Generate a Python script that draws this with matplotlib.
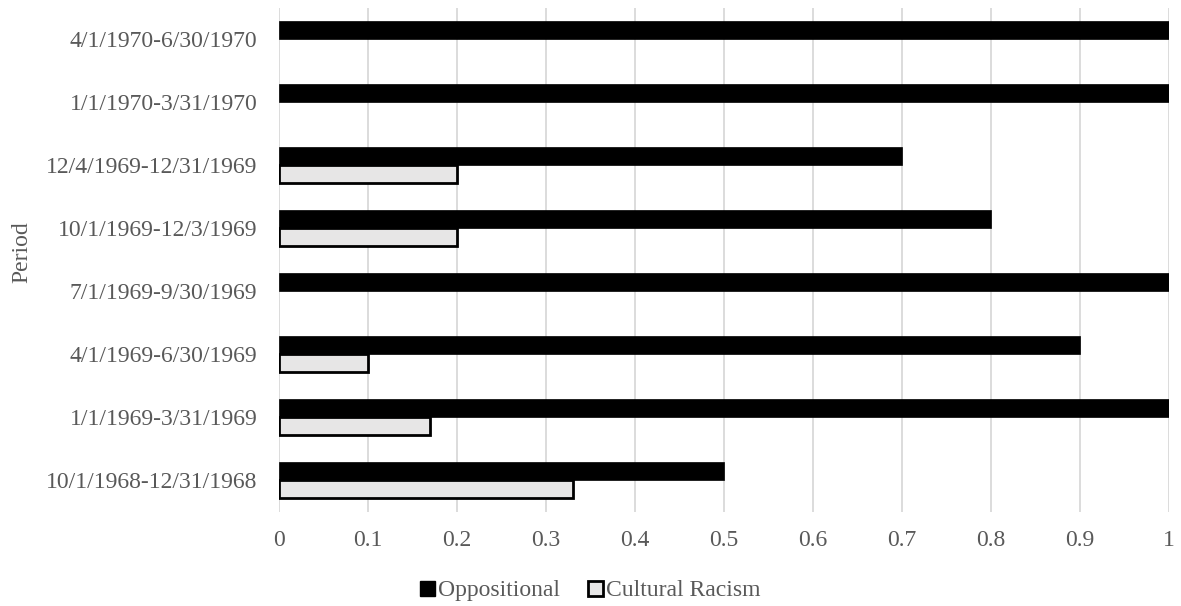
import matplotlib.pyplot as plt
from matplotlib.patches import Patch
import numpy as np

plt.rcParams['font.family'] = ['Liberation Serif', 'DejaVu Serif']

periods = ['10/1/1968-12/31/1968', '1/1/1969-3/31/1969', '4/1/1969-6/30/1969',
           '7/1/1969-9/30/1969', '10/1/1969-12/3/1969', '12/4/1969-12/31/1969',
           '1/1/1970-3/31/1970', '4/1/1970-6/30/1970']
oppositional = [0.5, 1.0, 0.9, 1.0, 0.8, 0.7, 1.0, 1.0]
cultural_racism = [0.33, 0.17, 0.1, 0.0, 0.2, 0.2, 0.0, 0.0]
x_ticks = [0, 0.1, 0.2, 0.3, 0.4, 0.5, 0.6, 0.7, 0.8, 0.9, 1]
x_labels = ['0', '0.1', '0.2', '0.3', '0.4', '0.5', '0.6', '0.7', '0.8', '0.9', '1']

txt = '#595959'
grey = '#E7E6E6'

fig = plt.figure(figsize=(11.81, 6.06), dpi=100)
ax = fig.add_axes([0.2362, 0.1559, 0.7536, 0.8317])

y = np.arange(len(periods))
h = 0.286
ax.barh(y + h / 2, oppositional, height=h, color='black', edgecolor='black', linewidth=0.5, zorder=3)
# zero values get no outline, else a stray line shows at x=0
lws = [0 if v == 0 else 2.0 for v in cultural_racism]
ax.barh(y - h / 2, cultural_racism, height=h, color=grey, edgecolor='black', linewidth=lws, zorder=3)

ax.set_xlim(0, 1)
ax.set_ylim(-0.5, len(periods) - 0.5)
ax.set_xticks(x_ticks)
ax.set_xticklabels(x_labels)
ax.set_yticks(y)
ax.set_yticklabels(periods)
ax.tick_params(axis='both', length=0, labelsize=17, colors=txt)
ax.tick_params(axis='y', pad=15.5)
ax.tick_params(axis='x', pad=13)
ax.grid(axis='x', color='#D9D9D9', linewidth=1.3, zorder=0)
ax.set_axisbelow(True)
for s in ax.spines.values():
    s.set_visible(False)

fig.text(0.0186, 0.584, 'Period', rotation=90, ha='center', va='center', fontsize=17, color=txt)

handles = [Patch(facecolor='black', edgecolor='black', linewidth=1),
           Patch(facecolor=grey, edgecolor='black', linewidth=2)]
fig.legend(handles, ['Oppositional', 'Cultural Racism'], loc='center', bbox_to_anchor=(0.5, 0.025),
           ncol=2, frameon=False, fontsize=17, labelcolor=txt, handlelength=0.6, handleheight=0.6,
           handletextpad=0.15, columnspacing=1.2)

fig.savefig('out.png', dpi=100)
